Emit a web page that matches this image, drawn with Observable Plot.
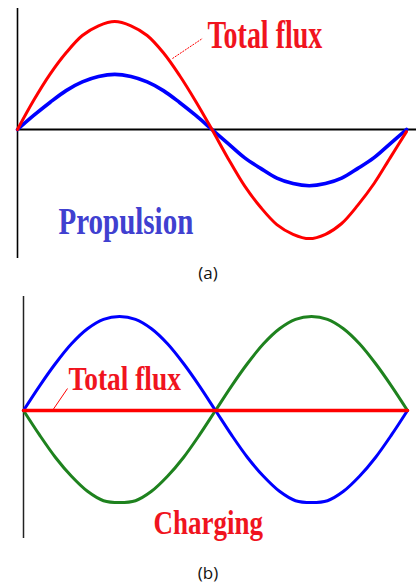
<!DOCTYPE html>
<html><head><meta charset="utf-8">
<script src="https://cdn.jsdelivr.net/npm/d3@7"></script>
<script src="https://cdn.jsdelivr.net/npm/@observablehq/plot@0.6"></script>
<style>
body{margin:0;background:#fff;width:416px;height:586px;position:relative;overflow:hidden}
.panel{position:absolute;left:0}
.cap{position:absolute;left:0;width:416px;text-align:center;font-family:"Open Sans","Liberation Sans",sans-serif;font-size:17px;line-height:22px;color:#111}
</style></head><body>
<div id="a" class="panel" style="top:0"></div>
<div class="cap" style="top:262px">(a)</div>
<div id="b" class="panel" style="top:288px"></div>
<div class="cap" style="top:562px">(b)</div>
<script>
// Phase (degrees) of the sampled points
const phase = [0,15,30,45,60,75,90,105,120,135,150,165,180,195,210,225,240,255,270,285,300,315,330,345,360];
// Panel (a): Propulsion
const totalFluxA = [0,0.27,0.51,0.71,0.87,0.96,1.0,0.96,0.87,0.71,0.5,0.26,0,-0.27,-0.52,-0.72,-0.88,-0.97,-1.01,-0.97,-0.87,-0.7,-0.5,-0.26,-0.02];
const propulsionA = [0,0.13,0.25,0.36,0.44,0.49,0.51,0.49,0.44,0.36,0.25,0.13,0,-0.13,-0.26,-0.36,-0.45,-0.5,-0.52,-0.5,-0.45,-0.36,-0.26,-0.13,0];
// Panel (b): Charging
const blueB  = [0,0.26,0.5,0.71,0.87,0.97,1.0,0.97,0.87,0.71,0.5,0.26,0,-0.26,-0.5,-0.7,-0.86,-0.96,-0.98,-0.96,-0.86,-0.7,-0.5,-0.26,0];
const greenB = [0,-0.26,-0.5,-0.7,-0.86,-0.96,-0.98,-0.96,-0.86,-0.7,-0.5,-0.26,0,0.26,0.5,0.71,0.87,0.97,1.0,0.97,0.87,0.71,0.5,0.26,0];
const totalFluxB = [0,0,0,0,0,0,0,0,0,0,0,0,0,0,0,0,0,0,0,0,0,0,0,0,0];
// Labels
const labelsA = ["Total flux","Propulsion"];
const labelsB = ["Total flux","Charging"];

const RED = "#ff0000", BLUE = "#0000ff", GREEN = "#1e821e";
const TXT_RED = "#f0141e", TXT_BLUE = "#4040d0";
const FONT = "'Liberation Serif', 'DejaVu Serif', serif";

const tbl = (ys) => phase.map((p, i) => ({p, v: ys[i]}));

function stretch(svg, factors) {
  d3.select(svg).selectAll("text").each(function() {
    const f = factors[this.textContent];
    if (!f) return;
    const t = this.getAttribute("transform");
    if (t && t.includes("translate")) {
      this.setAttribute("transform", t + ` scale(1,${f})`);
    } else {
      const x = +this.getAttribute("x") || 0, y = +this.getAttribute("y") || 0;
      this.setAttribute("transform", `translate(${x},${y}) scale(1,${f}) translate(${-x},${-y})`);
    }
  });
}

// ---------- Panel (a) ----------
const plotA = Plot.plot({
  width: 416, height: 262,
  marginLeft: 17, marginRight: 10, marginTop: 8, marginBottom: 4,
  x: {domain: [0, 360], axis: null},
  y: {domain: [-1.194, 1.12], axis: null},
  marks: [
    Plot.ruleX([0], {stroke: "#000", strokeWidth: 1.6}),
    Plot.ruleY([0], {x1: 0, x2: 370, stroke: "#000", strokeWidth: 2}),
    Plot.line(tbl(propulsionA), {x: "p", y: "v", stroke: BLUE, strokeWidth: 3.6, curve: "catmull-rom"}),
    Plot.line(tbl(totalFluxA), {x: "p", y: "v", stroke: RED, strokeWidth: 3, curve: "catmull-rom"}),
    Plot.link([{x1: 143.4, y1: 0.657, x2: 171.2, y2: 0.843}], {x1: "x1", y1: "y1", x2: "x2", y2: "y2", stroke: RED, strokeWidth: 1, strokeDasharray: "2,1"}),
    Plot.text([labelsA[0]], {x: 175.8, y: 0.75, text: d => d, textAnchor: "start", lineAnchor: "bottom", fill: TXT_RED, fontSize: 28, fontWeight: "bold", fontFamily: FONT}),
    Plot.text([labelsA[1]], {x: 37.9, y: -0.963, text: d => d, textAnchor: "start", lineAnchor: "bottom", fill: TXT_BLUE, fontSize: 29, fontWeight: "bold", fontFamily: FONT})
  ]
});
stretch(plotA, {"Total flux": 1.42, "Propulsion": 1.3});
document.getElementById("a").append(plotA);

// ---------- Panel (b) ----------
const plotB = Plot.plot({
  width: 416, height: 254,
  marginLeft: 23, marginRight: 9, marginTop: 8, marginBottom: 4,
  x: {domain: [0, 360], axis: null},
  y: {domain: [-1.362, 1.213], axis: null},
  marks: [
    Plot.ruleX([0], {stroke: "#222", strokeWidth: 1.5}),
    Plot.line(tbl(greenB), {x: "p", y: "v", stroke: GREEN, strokeWidth: 3, curve: "catmull-rom"}),
    Plot.line(tbl(blueB), {x: "p", y: "v", stroke: BLUE, strokeWidth: 3, curve: "catmull-rom"}),
    Plot.line(tbl(totalFluxB), {x: "p", y: "v", stroke: RED, strokeWidth: 3.5}),
    Plot.link([{x1: 27.2, y1: 0, x2: 41.25, y2: 0.234}], {x1: "x1", y1: "y1", x2: "x2", y2: "y2", stroke: RED, strokeWidth: 1}),
    Plot.text([labelsB[0]], {x: 42.2, y: 0.213, text: d => d, textAnchor: "start", lineAnchor: "bottom", fill: TXT_RED, fontSize: 27.4, fontWeight: "bold", fontFamily: FONT}),
    Plot.text([labelsB[1]], {x: 121.9, y: -1.309, text: d => d, textAnchor: "start", lineAnchor: "bottom", fill: TXT_RED, fontSize: 27, fontWeight: "bold", fontFamily: FONT})
  ]
});
stretch(plotB, {"Total flux": 1.22, "Charging": 1.28});
document.getElementById("b").append(plotB);
</script>
</body></html>
